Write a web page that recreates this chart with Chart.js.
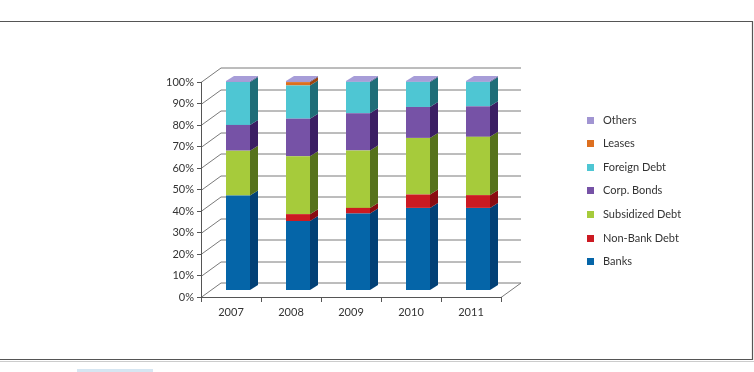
<!DOCTYPE html>
<html>
<head>
<meta charset="utf-8">
<script src="https://cdn.jsdelivr.net/npm/chart.js@4"></script>
<style>
html,body{margin:0;padding:0;background:#fff;}
#wrap{position:relative;width:754px;height:372px;}
canvas{display:block;}
</style>
</head>
<body>
<div id="wrap"><canvas id="c" width="754" height="372"></canvas></div>
<script>
// ---- data ----
const years = ['2007', '2008', '2009', '2010', '2011'];
const banks = [45.2, 33.0, 36.6, 39.3, 39.3];
const nonBankDebt = [0, 3.3, 2.7, 6.4, 6.1];
const subsidizedDebt = [21.5, 27.7, 27.5, 27.1, 27.9];
const corpBonds = [12.3, 18.0, 17.8, 14.8, 14.6];
const foreignDebt = [20.5, 15.9, 15.0, 12.0, 11.7];
const leases = [0, 1.6, 0, 0, 0];
const others = [0.5, 0.5, 0.4, 0.4, 0.4];
const yTickLabels = ['0%', '10%', '20%', '30%', '40%', '50%', '60%', '70%', '80%', '90%', '100%'];

const seriesNames = ['Banks', 'Non-Bank Debt', 'Subsidized Debt', 'Corp. Bonds', 'Foreign Debt', 'Leases', 'Others'];
const seriesData = [banks, nonBankDebt, subsidizedDebt, corpBonds, foreignDebt, leases, others];
const frontColors = ['#0565a8', '#cc1a22', '#a6cb3b', '#7652a6', '#4ec6d3', '#dd6f1f', '#a195d2'];
const sideColors  = ['#034176', '#8a0c12', '#56721c', '#3b1f63', '#1f6d78', '#9a4610', '#6c62a0'];
const topColors   = ['#2a7fc0', '#e04048', '#bfe06a', '#9a7cc6', '#80d8e2', '#f09050', '#a79dd8'];

const DX = 7, DY = -7;          // bar plane offset (mid depth)
const WX = 20, WY = -14.5;      // back wall offset
const BD_X = 8, BD_Y = -5;      // bar depth

const threeD = {
  id: 'threeD',
  beforeDraw(chart) {
    const ctx = chart.ctx;
    ctx.save();
    ctx.strokeStyle = '#555';
    ctx.lineWidth = 1.2;
    ctx.beginPath();
    ctx.moveTo(0, 21.5); ctx.lineTo(752.5, 21.5); ctx.lineTo(752.5, 359.5); ctx.lineTo(0, 359.5);
    ctx.stroke();
    ctx.strokeStyle = '#ccc';
    ctx.lineWidth = 1;
    ctx.beginPath(); ctx.moveTo(0, 361.5); ctx.lineTo(754, 361.5); ctx.stroke();
    ctx.fillStyle = '#d6e6f2';
    ctx.fillRect(77, 369, 76, 3);
    // back wall gridlines
    const ys = chart.scales.y, xs = chart.scales.x;
    const L = chart.chartArea.left, R = chart.chartArea.right, B = chart.chartArea.bottom;
    ctx.strokeStyle = '#7a7a7a';
    ctx.lineWidth = 1;
    ys.ticks.forEach(t => {
      const py = Math.round(ys.getPixelForValue(t.value)) + 0.5;
      ctx.beginPath();
      ctx.moveTo(L, py);
      ctx.lineTo(L + WX, py + WY);
      ctx.lineTo(R + WX, py + WY);
      ctx.stroke();
    });
    ctx.beginPath();
    ctx.moveTo(R, B + 0.5);
    ctx.lineTo(R + WX, B + 0.5 + WY);
    ctx.stroke();
    ctx.restore();
  },
  beforeDatasetsDraw(chart) {
    chart.ctx.save();
    chart.ctx.translate(DX, DY);
  },
  afterDatasetsDraw(chart) {
    const ctx = chart.ctx;
    const n = chart.data.labels.length;
    for (let i = 0; i < n; i++) {
      let topIdx = -1;
      chart.data.datasets.forEach((ds, d) => {
        const el = chart.getDatasetMeta(d).data[i];
        if (!el) return;
        const top = Math.min(el.y, el.base), bot = Math.max(el.y, el.base);
        if (bot - top <= 0.01) return;
        topIdx = d;
        const r = el.x + el.width / 2;
        ctx.fillStyle = sideColors[d];
        ctx.beginPath();
        ctx.moveTo(r, top);
        ctx.lineTo(r + BD_X, top + BD_Y);
        ctx.lineTo(r + BD_X, bot + BD_Y);
        ctx.lineTo(r, bot);
        ctx.closePath();
        ctx.fill();
      });
      if (topIdx >= 0) {
        const el = chart.getDatasetMeta(topIdx).data[i];
        const top = Math.min(el.y, el.base);
        const l = el.x - el.width / 2, r = el.x + el.width / 2;
        ctx.fillStyle = topColors[topIdx];
        ctx.beginPath();
        ctx.moveTo(l, top);
        ctx.lineTo(r, top);
        ctx.lineTo(r + BD_X, top + BD_Y);
        ctx.lineTo(l + BD_X, top + BD_Y);
        ctx.closePath();
        ctx.fill();
      }
    }
    ctx.restore();
  },
  afterDraw(chart) {
    // legend (reverse order, top = Others)
    const ctx = chart.ctx;
    ctx.save();
    ctx.font = '11px Lato, "Open Sans", sans-serif';
    ctx.textBaseline = 'middle';
    const startY = 120, step = 23.6;
    const ds = chart.data.datasets;
    for (let k = ds.length - 1, j = 0; k >= 0; k--, j++) {
      const y = startY + j * step;
      ctx.fillStyle = frontColors[k];
      ctx.fillRect(587, Math.round(y - 3.5), 7, 7);
      ctx.fillStyle = '#333';
      ctx.fillText(ds[k].label, 603, y);
    }
    ctx.restore();
  }
};

new Chart(document.getElementById('c'), {
  type: 'bar',
  data: {
    labels: years,
    datasets: seriesNames.map((name, i) => ({
      label: name,
      data: seriesData[i],
      backgroundColor: frontColors[i],
      borderWidth: 0,
      yAxisID: 'y2',
      barPercentage: 0.4,
      categoryPercentage: 1.0
    }))
  },
  options: {
    responsive: false,
    animation: false,
    events: [],
    layout: { padding: { left: 0, top: 82, right: 253, bottom: 0 } },
    plugins: { legend: { display: false }, tooltip: { enabled: false } },
    scales: {
      x: {
        stacked: true,
        afterFit(s) { s.height = 75; },
        grid: { drawOnChartArea: false, drawTicks: true, tickLength: 5, color: '#555', offset: true },
        border: { display: true, color: '#555' },
        ticks: { color: '#333', font: { family: 'Lato, "Open Sans", sans-serif', size: 11 }, padding: 4 }
      },
      y: {
        min: 0, max: 100,
        afterFit(s) { s.width = 201; },
        afterBuildTicks(s) { s.ticks = yTickLabels.map((_, i) => ({ value: i * 10 })); },
        grid: { drawOnChartArea: false, drawTicks: true, tickLength: 4, color: '#555' },
        border: { display: true, color: '#555' },
        ticks: {
          color: '#333', font: { family: 'Lato, "Open Sans", sans-serif', size: 11 }, padding: 3,
          callback: (v, i) => yTickLabels[i]
        }
      },
      y2: {
        stacked: true, display: false, min: 0, max: 102.9
      }
    }
  },
  plugins: [threeD]
});
</script>
</body>
</html>
